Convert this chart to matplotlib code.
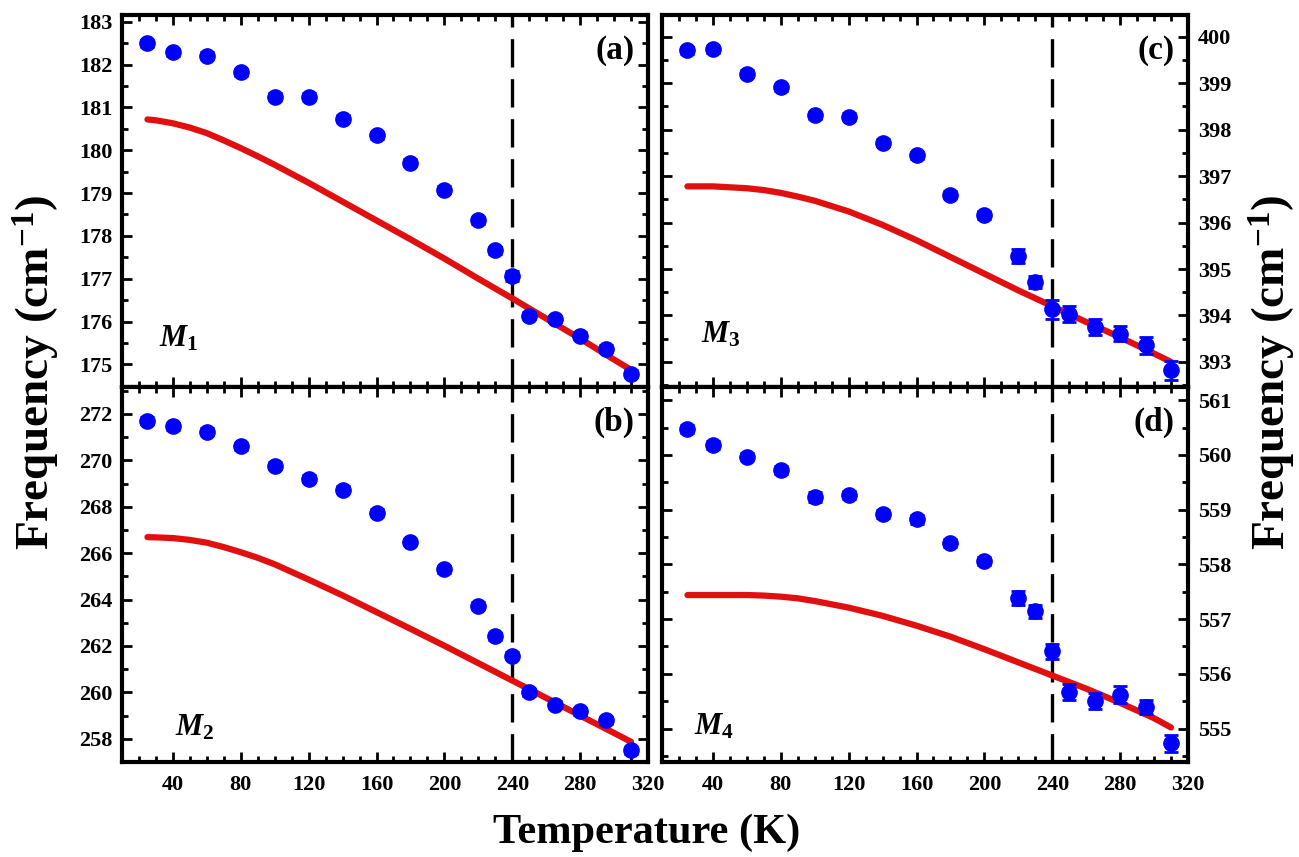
import numpy as np
import matplotlib.pyplot as plt
from matplotlib.ticker import MultipleLocator

plt.rcParams['font.family'] = 'Liberation Serif'
plt.rcParams['font.weight'] = 'bold'
plt.rcParams['mathtext.fontset'] = 'custom'
plt.rcParams['mathtext.rm'] = 'Liberation Serif:bold'
plt.rcParams['mathtext.bf'] = 'Liberation Serif:bold'
plt.rcParams['mathtext.it'] = 'Liberation Serif:italic:bold'

# measured temperatures (K)
temps = [25, 40, 60, 80, 100, 120, 140, 160, 180, 200, 220, 230, 240, 250, 265, 280, 295, 310]

# M1 (a)
m1 = [182.50, 182.29, 182.21, 181.82, 181.25, 181.25, 180.74, 180.35, 179.71, 179.08,
      178.36, 177.66, 177.07, 176.14, 176.06, 175.67, 175.36, 174.78]
m1_err = [0.08, 0.08, 0.08, 0.08, 0.08, 0.08, 0.08, 0.08, 0.08, 0.08,
          0.08, 0.08, 0.12, 0.08, 0.08, 0.08, 0.08, 0.08]
# M2 (b)
m2 = [271.71, 271.46, 271.24, 270.60, 269.77, 269.21, 268.74, 267.74, 266.48, 265.30,
      263.73, 262.42, 261.58, 260.01, 259.47, 259.18, 258.79, 257.51]
m2_err = [0.15] * 18
# M3 (c)
m3 = [399.71, 399.73, 399.21, 398.91, 398.31, 398.28, 397.72, 397.45, 396.60, 396.16,
      395.28, 394.72, 394.13, 394.04, 393.75, 393.61, 393.36, 392.82]
m3_err = [0.07, 0.07, 0.07, 0.07, 0.07, 0.07, 0.07, 0.07, 0.08, 0.08,
          0.16, 0.13, 0.20, 0.17, 0.17, 0.17, 0.18, 0.20]
# M4 (d)
m4 = [560.47, 560.18, 559.97, 559.72, 559.23, 559.27, 558.92, 558.82, 558.39, 558.06,
      557.38, 557.14, 556.41, 555.67, 555.50, 555.62, 555.39, 554.73]
m4_err = [0.07, 0.07, 0.07, 0.07, 0.09, 0.07, 0.08, 0.08, 0.08, 0.08,
          0.13, 0.12, 0.14, 0.14, 0.15, 0.15, 0.13, 0.15]

# anharmonic fit curves
fit_T = [25, 30, 40, 50, 60, 70, 80, 90, 100, 120, 140, 160, 180, 200, 220, 240, 260, 280, 300, 310]
fit1 = [180.72, 180.70, 180.63, 180.53, 180.40, 180.23, 180.05, 179.86, 179.66, 179.24,
        178.80, 178.36, 177.92, 177.47, 177.00, 176.54, 176.07, 175.60, 175.11, 174.87]
fit2 = [266.69, 266.68, 266.65, 266.57, 266.45, 266.26, 266.04, 265.80, 265.52, 264.86,
        264.18, 263.46, 262.74, 262.01, 261.26, 260.51, 259.76, 259.00, 258.25, 257.87]
fit3 = [396.78, 396.78, 396.78, 396.76, 396.74, 396.70, 396.64, 396.56, 396.47, 396.24,
        395.95, 395.62, 395.26, 394.90, 394.54, 394.20, 393.86, 393.53, 393.18, 393.00]
fit4 = [557.44, 557.44, 557.44, 557.44, 557.44, 557.43, 557.41, 557.38, 557.33, 557.21,
        557.06, 556.88, 556.68, 556.45, 556.21, 555.97, 555.73, 555.47, 555.19, 555.02]

T_c = 240

fig = plt.figure(figsize=(12.99, 8.57), dpi=100)

xl = [122 / 1299, 662 / 1299]
w = 526 / 1299
panels = [
    # freq, err, fit, ylim, major, minor, tag, mode, col, row, mode pos
    (m1, m1_err, fit1, (174.47, 183.16), 1, 0.5, '(a)', r'$\mathit{M}_{\mathit{1}}$', 0, 0, (0.07, 0.13)),
    (m2, m2_err, fit2, (257.0, 273.16), 2, 1, '(b)', r'$\mathit{M}_{\mathit{2}}$', 0, 1, (0.10, 0.09)),
    (m3, m3_err, fit3, (392.46, 400.47), 1, 0.5, '(c)', r'$\mathit{M}_{\mathit{3}}$', 1, 0, (0.075, 0.14)),
    (m4, m4_err, fit4, (554.39, 561.24), 1, 0.5, '(d)', r'$\mathit{M}_{\mathit{4}}$', 1, 1, (0.06, 0.095)),
]

for freq, err, fit, ylim, major, minor, tag, mode, col, row, mpos in panels:
    if row == 0:
        bottom, h = 1 - 15 / 857 - 372 / 857, 372 / 857
    else:
        bottom, h = 1 - 762 / 857, 375 / 857
    ax = fig.add_axes([xl[col], bottom, w, h])

    ax.plot(fit_T, fit, color='#e01010', lw=4.5, solid_capstyle='round',
            solid_joinstyle='round', zorder=2)
    ax.errorbar(temps, freq, yerr=err, fmt='o', color='#0000ff', ms=11,
                capsize=5, capthick=2, elinewidth=2, zorder=3)
    ax.axvline(T_c, color='black', lw=2.4, ls=(0, (8.5, 3.5)), zorder=1)

    ax.set_xlim(10, 320)
    ax.set_ylim(*ylim)
    ax.xaxis.set_major_locator(MultipleLocator(40))
    ax.xaxis.set_minor_locator(MultipleLocator(10))
    ax.yaxis.set_major_locator(MultipleLocator(major))
    ax.yaxis.set_minor_locator(MultipleLocator(minor))

    for s in ax.spines.values():
        s.set_linewidth(3)

    ax.tick_params(which='both', direction='in', top=True, bottom=True, left=True, right=True,
                   width=2, labelsize=16)
    ax.tick_params(which='major', length=7.5)
    ax.tick_params(which='minor', length=4.5)
    ax.tick_params(axis='x', pad=9, labelbottom=(row == 1))
    if col == 1:
        ax.tick_params(axis='y', labelleft=False, labelright=True, pad=7)
    else:
        ax.tick_params(axis='y', pad=7)

    ax.text(0.975, 0.905, tag, transform=ax.transAxes, ha='right', va='center',
            fontsize=24, fontweight='bold')
    ax.text(mpos[0], mpos[1], mode, transform=ax.transAxes, ha='left', va='center',
            fontsize=22)

fig.text(647 / 1299, 1 - 833 / 857, 'Temperature (K)', ha='center', va='center',
         fontsize=30.5, fontweight='bold')
fig.text(37 / 1299, 1 - 372 / 857, r'Frequency (cm$^{\mathbf{-1}}$)', ha='center', va='center',
         rotation=90, fontsize=34, fontweight='bold')
fig.text(1273 / 1299, 1 - 372 / 857, r'Frequency (cm$^{\mathbf{-1}}$)', ha='center', va='center',
         rotation=90, fontsize=34, fontweight='bold')

fig.savefig('out.png', dpi=100)
